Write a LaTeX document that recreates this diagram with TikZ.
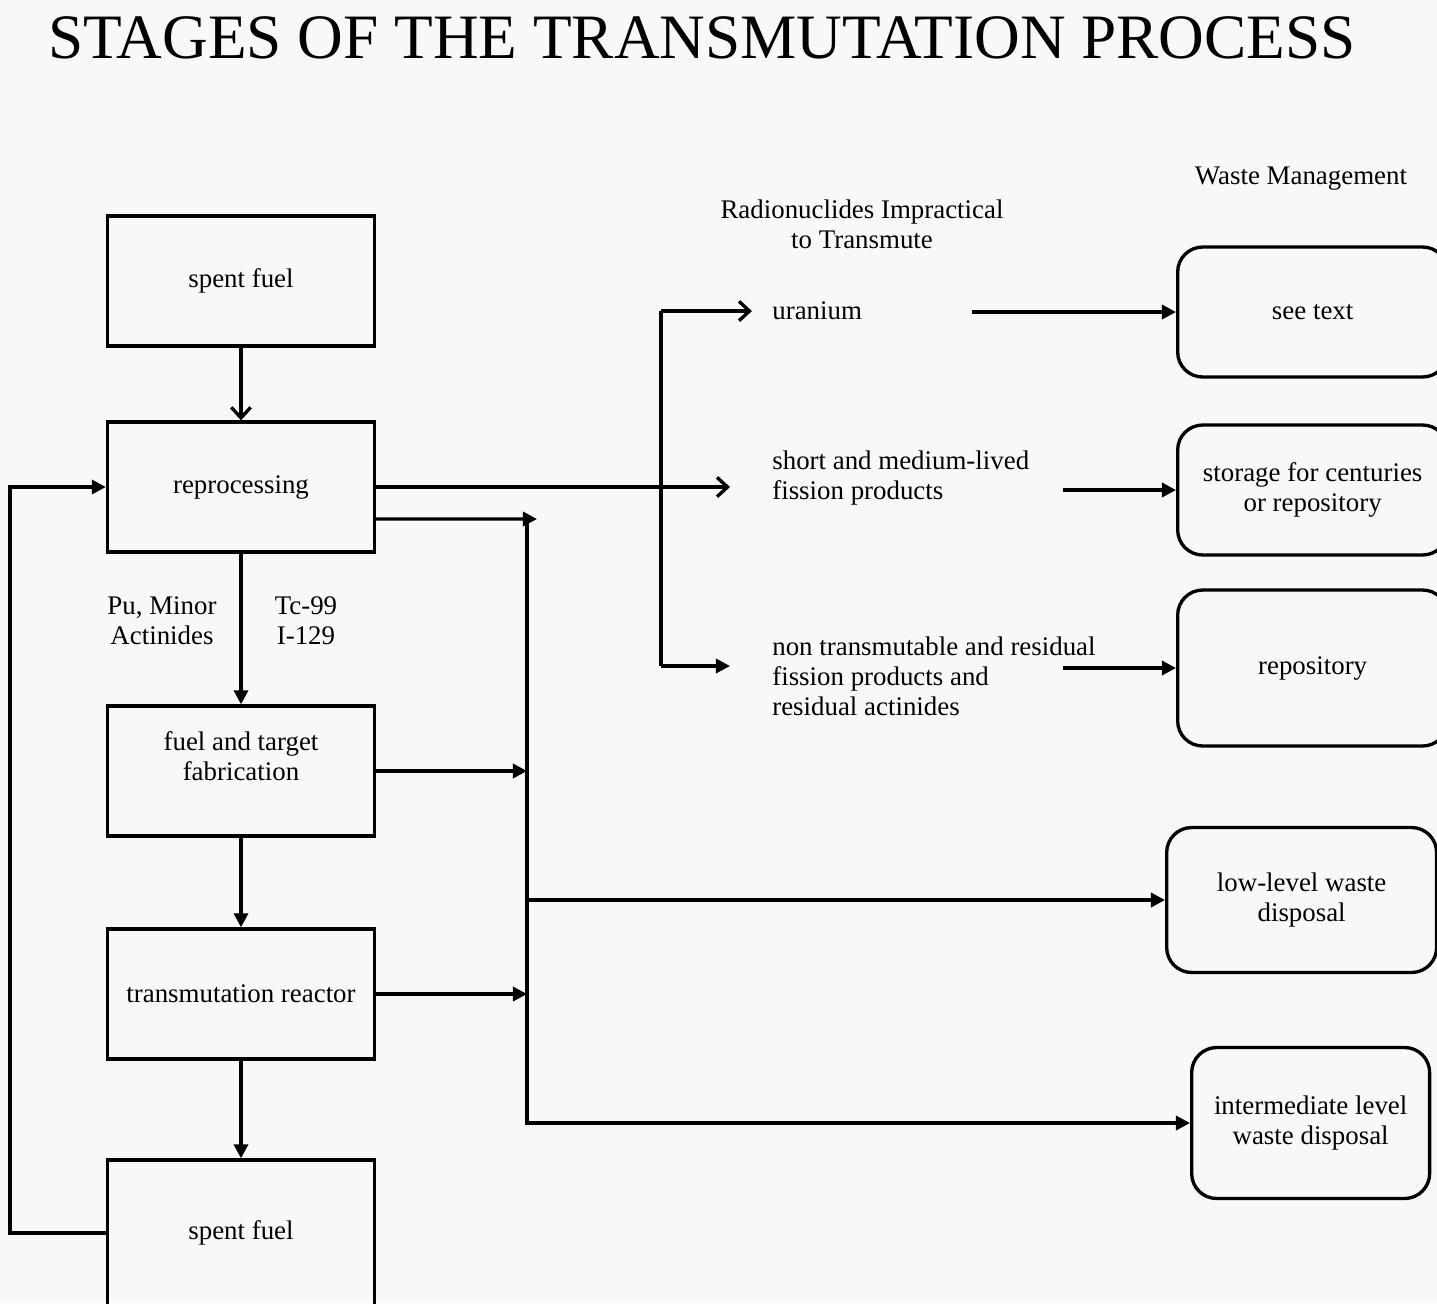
\documentclass[tikz,border=0pt]{standalone}
\usepackage{fontspec}
\setmainfont{Liberation Serif}
\usetikzlibrary{arrows.meta,positioning}
\definecolor{bggray}{RGB}{248,248,248}
\begin{document}
\begin{tikzpicture}[
        x=0.02cm, y=-0.02cm,
        every node/.style={font=\fontsize{15.3}{17}\selectfont},
        stage/.style={draw, line width=1.9pt, minimum width=5.34cm, minimum height=2.6cm, align=center, inner sep=0pt},
        waste/.style={draw, line width=1.9pt, rounded corners=0.5cm, minimum width=5.4cm, align=center, anchor=west},
        note/.style={align=left, anchor=west, inner sep=0pt},
        link/.style={line width=1.9pt},
        tri/.style={link, -{Triangle[length=8pt,width=8pt]}},
        barb/.style={link, -{Straight Barb[length=6pt,width=11pt]}}
    ]
        \useasboundingbox (0,0) rectangle (1437,1303);
        \clip (0,0) rectangle (1437,1303);
        \fill[bggray] (0,0) rectangle (1437,1303);
        \node[font=\fontsize{36}{40}\selectfont] (title) at (702,38) {STAGES OF THE TRANSMUTATION PROCESS};

        % process chain
        \node[stage] (spent) at (241,281) {spent fuel};
        \node[stage] (repro) at (241,487) {reprocessing};
        \node[stage] (fab) at (241,771) {fuel and target\\fabrication\\\mbox{}};
        \node[stage] (reactor) at (241,994) {transmutation reactor};
        \node[stage, minimum height=2.92cm] (spentb) at (241,1233) {spent fuel};
        \node[align=center] (pu) at (162,621) {Pu, Minor\\Actinides};
        \node[align=center] (tc) at (306,621) {Tc-99\\I-129};

        \draw[barb] (spent) -- (repro);
        \foreach \a/\b in {repro/fab, fab/reactor, reactor/spentb}
            \draw[tri] (\a) -- (\b);
        \draw[tri] (spentb.west) -- ++(-96,0) |- (repro.west);

        % radionuclides impractical to transmute
        \node[align=center] (imprac) at (862,224) {Radionuclides Impractical\\to Transmute};
        \node[note] (uran) at (772,311) {uranium};
        \node[note] (shortfp) at (772,478) {short and medium-lived\\fission products};
        \node[note] (nontr) at (772,676) {non transmutable and residual\\fission products and\\residual actinides};

        \coordinate (split) at (661,487);
        \coordinate (sbot) at (661,666);
        \draw[link] (split |- uran.west) -- (sbot);
        \draw[barb, shorten >=0.4cm] (split |- uran.west) -- (uran.west);
        \draw[barb, shorten >=0.84cm] (repro.east) -- (split) -- (split -| shortfp.west);
        \draw[tri, shorten >=0.84cm] (sbot) -- (sbot -| nontr.west);

        % waste management
        \node (wm) at (1301,179) {Waste Management};
        \node[waste, minimum height=2.6cm] (seetext) at (1176,312) {see text};
        \node[waste, minimum height=2.6cm] (storage) at (1176,490) {storage for centuries\\or repository};
        \node[waste, minimum height=3.12cm] (repo) at (1176,668) {repository};
        \node[waste, minimum height=2.9cm] (llw) at (1165,900) {low-level waste\\disposal};
        \node[waste, minimum width=4.76cm, minimum height=3.02cm] (ilw) at (1190,1123) {intermediate level\\waste disposal};

        \draw[tri] ([xshift=-4.08cm]seetext.west) -- (seetext.west);
        \draw[tri] ([xshift=-2.26cm]storage.west) -- (storage.west);
        \draw[tri] ([xshift=-2.26cm]repo.west) -- (repo.west);

        % waste streams from the chain
        \coordinate (bus) at (527,519);
        \draw[tri, shorten >=-0.2cm] ([yshift=-0.64cm]repro.east) -- (bus);
        \draw[tri] (bus) -- (ilw.west -| bus) -- (ilw.west);
        \draw[tri] (fab.east) -- (fab.east -| bus);
        \draw[tri] (reactor.east) -- (reactor.east -| bus);
        \draw[tri] (llw.west -| bus) -- (llw.west);
    \end{tikzpicture}
\end{document}
